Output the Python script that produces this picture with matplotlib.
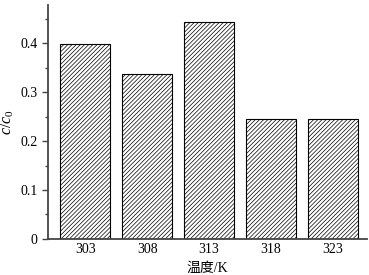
import matplotlib
matplotlib.use("Agg")
import matplotlib.pyplot as plt
from matplotlib.ticker import MultipleLocator

temps = ["303", "308", "313", "318", "323"]
ratio = [0.399, 0.337, 0.444, 0.246, 0.246]

plt.rcParams['font.family'] = ['Liberation Serif', 'Noto Sans CJK SC']
plt.rcParams['mathtext.fontset'] = 'custom'
plt.rcParams['mathtext.it'] = 'Liberation Serif:italic'
plt.rcParams['mathtext.rm'] = 'Liberation Serif'
plt.rcParams['hatch.color'] = '#666666'
plt.rcParams['hatch.linewidth'] = 0.5

fig = plt.figure(figsize=(3.69, 2.75), dpi=100)
ax = fig.add_axes([0.130, 0.131, 0.865, 0.851])

ax.bar(range(len(temps)), ratio, width=0.8, color='white',
       edgecolor='black', linewidth=0.8, hatch='////////')

ax.set_xlim(-0.6, 4.55)
ax.set_ylim(0, 0.478)
ax.set_xticks(range(len(temps)))
ax.set_xticklabels(temps)
ax.set_yticks([0, 0.1, 0.2, 0.3, 0.4])
ax.set_yticklabels(["0", "0.1", "0.2", "0.3", "0.4"])
ax.yaxis.set_minor_locator(MultipleLocator(0.05))

for s in ['top', 'right']:
    ax.spines[s].set_visible(False)
for s in ['left', 'bottom']:
    ax.spines[s].set_linewidth(1.3)
    ax.spines[s].set_color('#444444')

ax.tick_params(axis='y', direction='out', length=4, width=1, labelsize=10, colors='#444444', labelcolor='black')
ax.tick_params(axis='y', which='minor', direction='out', length=2.5, width=1, colors='#444444')
ax.tick_params(axis='x', length=0, labelsize=10, pad=3)

ax.set_ylabel(r"$c/c_0$", fontsize=11.5)
ax.yaxis.set_label_coords(-0.10, 0.5)
ax.set_xlabel("温度/K", fontsize=10, labelpad=4)

fig.savefig("out.png", dpi=100)
